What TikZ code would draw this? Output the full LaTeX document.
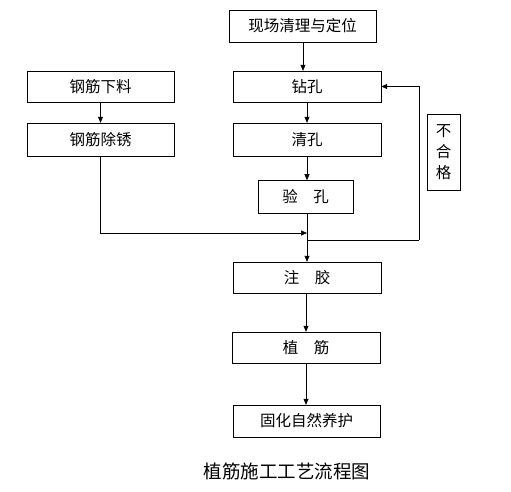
\documentclass[tikz,border=0pt]{standalone}
\usepackage{fontspec}
\setmainfont{Noto Sans CJK SC}
\usepackage{tikz}
\usetikzlibrary{
	positioning,
	arrows.meta
}

\begin{document}
\begin{tikzpicture}[
				x=1pt,y=-1pt,
				block/.style={
					draw,
					rectangle,
					minimum width=148pt,
					minimum height=32pt,
					inner sep=0pt,
					align=center,
					font=\fontsize{15.5}{21}\selectfont
				},
				arrow/.style={
					-{Triangle[length=6pt,width=5pt]},
					semithick
				}
				]
				
				\useasboundingbox (0,0) rectangle (511,492);
				
				\node[block, minimum width=147pt] (site) at (302.5,26) {现场清理与定位};
				\node[block, minimum height=31pt] (drill) at (307,86.5) {钻孔};
				\node[block, minimum height=33pt] (clean) at (307,139.5) {清孔};
				\node[block, minimum width=95pt, minimum height=33pt] (check) at (305.5,196.5) {验\quad 孔};
				
				\node[block, minimum width=147pt, minimum height=31pt] (cut) at (100.5,86.5) {钢筋下料};
				\node[block, minimum width=147pt, minimum height=33pt] (derust) at (100.5,139.5) {钢筋除锈};
				
				\node[block, minimum width=33pt, minimum height=76pt, text width=16pt] (fail) at (443.5,152) {不\\合\\格};
				
				\node[block, minimum height=31pt] (inject) at (307,277.5) {注\quad 胶};
				\node[block, minimum height=31pt] (plant) at (306,347.5) {植\quad 筋};
				\node[block, minimum width=147pt] (cure) at (306.5,421) {固化自然养护};
				
				\node[font=\fontsize{18.5}{20}\selectfont] (title) at (287,471) {植筋施工工艺流程图};
				
				\coordinate (merge) at (307,233);
				\coordinate (split) at (307,240);
				\coordinate (back) at (419,240);
				
				\draw[arrow] (site.south -| 303,0) -- (drill.north -| 303,0);
				\draw[arrow] (drill) -- (clean);
				\draw[arrow] (clean.south -| check) ++(1.5,0) -- ++(0,24);
				\draw[arrow] (cut.south) -- (derust.north);
				\draw[arrow] (derust.south) |- (merge);
				\draw[arrow] (check.south -| inject) -- (inject.north);
				\draw[semithick] (split) -- (back);
				\draw[arrow] (back) |- (drill.east);
				\draw[arrow] (inject.south -| 306,0) -- (plant.north -| 306,0);
				\draw[arrow] (plant.south -| 306,0) -- (cure.north -| 306,0);
				
			\end{tikzpicture}
\end{document}
